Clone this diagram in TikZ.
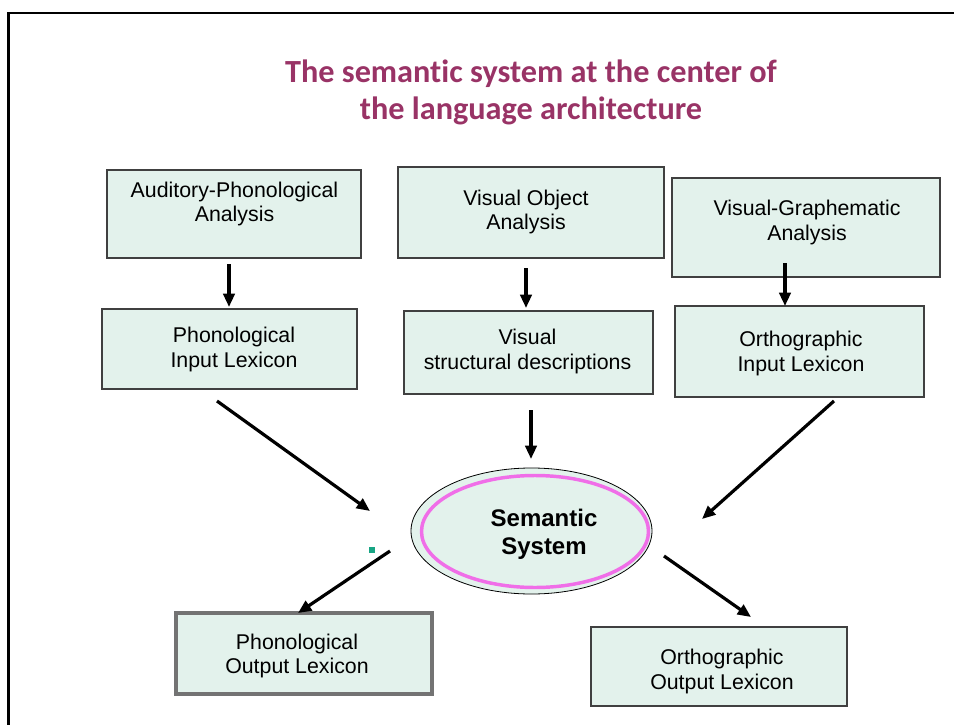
\documentclass[tikz,border=0pt]{standalone}
\usepackage{fontspec}
\setmainfont{Liberation Sans}
\newfontfamily\titlefont[Ligatures=NoCommon]{Carlito}
\usetikzlibrary{fit,arrows.meta,shapes.geometric}
\definecolor{boxfill}{HTML}{E3F2EC}
\definecolor{boxline}{HTML}{404040}
\definecolor{titlered}{HTML}{993366}
\definecolor{ringpink}{HTML}{F06EE8}
\definecolor{marker}{HTML}{17A584}
\tikzset{
  stage/.style={draw=boxline, line width=0.9pt, fill=boxfill, inner sep=0pt},
  heavystage/.style={stage, draw=gray!90!black, line width=2.8pt},
  label text/.style={align=center, font=\fontsize{16}{18.5}\selectfont, inner sep=0pt},
  flow/.style={line width=2.4pt, -{Triangle[length=10pt,width=8.5pt]}},
}
\begin{document}
\begin{tikzpicture}[x=0.75pt,y=-0.75pt]
\useasboundingbox (0,0) rectangle (954,725);

% slide frame
\draw[line width=1.6pt, line cap=rect] (954,13) -- (8.5,13) -- (8.5,725);

% heading
\node[font=\titlefont\bfseries\fontsize{24.2}{27.5}\selectfont, text=titlered, align=center, inner sep=0pt]
  (heading) at (531,92.5) {The semantic system at the center of\\the language architecture};

% input analysis stages
\node[stage, fit={(107,170)(361,258)}] (apa) {};
\node[label text] (apa-t) at (234.5,204) {Auditory-Phonological\\Analysis};
\node[stage, fit={(398,167)(664,258)}] (voa) {};
\node[label text] (voa-t) at (526,212) {Visual Object\\Analysis};
\node[stage, fit={(672,178)(940,277)}] (vga) {};
\node[label text] (vga-t) at (807,222.5) {Visual-Graphematic\\Analysis};

% input lexica / descriptions
\node[stage, fit={(102,309)(357,389)}] (pil) {};
\node[label text] (pil-t) at (234,349.5) {Phonological\\Input Lexicon};
\node[stage, fit={(404,311)(653,394)}] (vsd) {};
\node[label text] (vsd-t) at (527.5,351.5) {Visual\\structural descriptions};
\node[stage, fit={(675,306)(924,397)}] (oil) {};
\node[label text] (oil-t) at (801,353.5) {Orthographic\\Input Lexicon};

% semantic system
\node[ellipse, draw=black, line width=0.6pt, fill=boxfill, minimum width=241*0.75pt, minimum height=126*0.75pt, inner sep=0pt]
  (sem) at (531.5,531) {};
\node[ellipse, draw=ringpink, line width=2.6pt, minimum width=227*0.75pt, minimum height=112*0.75pt, inner sep=0pt]
  (sem-ring) at (535,531.5) {};
\node[align=center, font=\bfseries\fontsize{18}{21}\selectfont, inner sep=0pt] (sem-t) at (544,534) {Semantic\\System};

% output lexica
\node[heavystage, fit={(176,613)(432,694)}] (pol) {};
\node[label text] (pol-t) at (297,656) {Phonological\\Output Lexicon};
\node[stage, fit={(591,627)(847,706)}] (ool) {};
\node[label text] (ool-t) at (722,671.5) {Orthographic\\Output Lexicon};

% small marker
\node[fill=marker, minimum size=6*0.75pt, inner sep=0pt] (dot) at (372,549.5) {};

% arrow end points
\coordinate (a1s) at (229,264);  \coordinate (a1e) at (229,307);
\coordinate (a2s) at (526,268);  \coordinate (a2e) at (526,308);
\coordinate (a3s) at (785,263);  \coordinate (a3e) at (785,306);
\coordinate (a4s) at (217,401);  \coordinate (a4e) at (370,511);
\coordinate (a5s) at (531,410);  \coordinate (a5e) at (531,459);
\coordinate (a6s) at (834,401);  \coordinate (a6e) at (702,519);
\coordinate (a7s) at (390,551);  \coordinate (a7e) at (298,613);
\coordinate (a8s) at (664,556);  \coordinate (a8e) at (751,617);

\draw[flow] (a1s) -- (a1e);
\draw[flow] (a2s) -- (a2e);
\draw[flow] (a3s) -- (a3e);
\draw[flow] (a4s) -- (a4e);
\draw[flow] (a5s) -- (a5e);
\draw[flow] (a6s) -- (a6e);
\draw[flow] (a7s) -- (a7e);
\draw[flow] (a8s) -- (a8e);
\end{tikzpicture}
\end{document}
